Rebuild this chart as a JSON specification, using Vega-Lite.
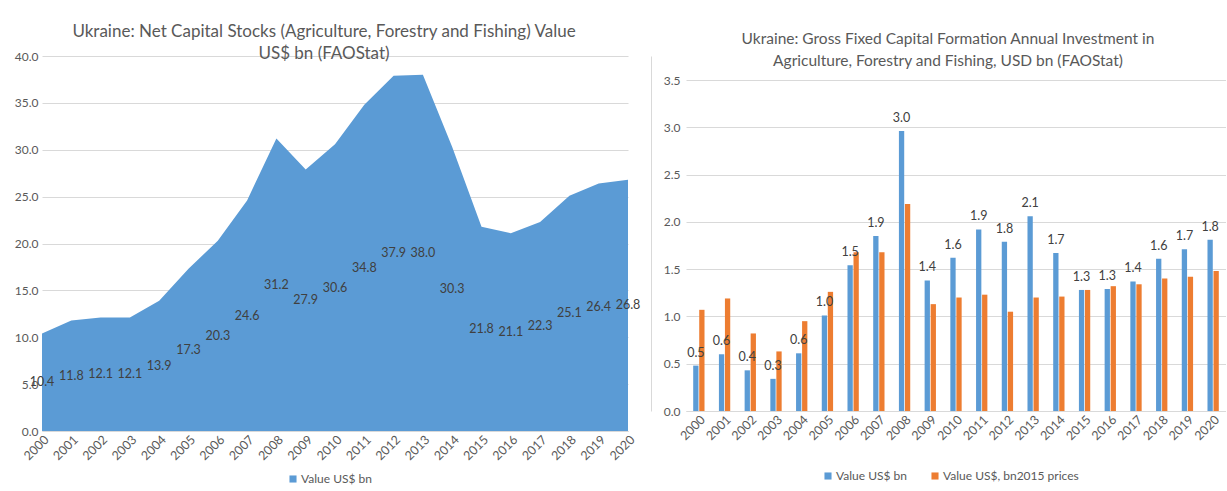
{
  "$schema": "https://vega.github.io/schema/vega-lite/v6.json",
  "background": "white",
  "padding": {"left": 14, "top": 23, "right": 0, "bottom": 0},
  "spacing": 10,
  "resolve": {"scale": {"color": "independent"}, "legend": {"color": "independent"}},
  "config": {
    "font": "Lato",
    "view": {"stroke": null},
    "title": {"color": "#595959", "fontSize": 17, "fontWeight": "normal", "lineHeight": 22},
    "axis": {"labelColor": "#595959", "labelFontSize": 12, "gridColor": "#d9d9d9", "domainColor": "#d9d9d9", "ticks": false, "title": null, "labelFont": "Lato", "labelOverlap": false},
    "legend": {"labelColor": "#595959", "labelFontSize": 12, "labelOffset": 2, "symbolType": "square", "symbolSize": 50, "title": null, "symbolStrokeWidth": 0}
  },
  "datasets": {
    "stocks": [
      {"year": "2000", "value": 10.4, "series": "Value US$ bn"},
      {"year": "2001", "value": 11.8, "series": "Value US$ bn"},
      {"year": "2002", "value": 12.1, "series": "Value US$ bn"},
      {"year": "2003", "value": 12.1, "series": "Value US$ bn"},
      {"year": "2004", "value": 13.9, "series": "Value US$ bn"},
      {"year": "2005", "value": 17.3, "series": "Value US$ bn"},
      {"year": "2006", "value": 20.3, "series": "Value US$ bn"},
      {"year": "2007", "value": 24.6, "series": "Value US$ bn"},
      {"year": "2008", "value": 31.2, "series": "Value US$ bn"},
      {"year": "2009", "value": 27.9, "series": "Value US$ bn"},
      {"year": "2010", "value": 30.6, "series": "Value US$ bn"},
      {"year": "2011", "value": 34.8, "series": "Value US$ bn"},
      {"year": "2012", "value": 37.9, "series": "Value US$ bn"},
      {"year": "2013", "value": 38.0, "series": "Value US$ bn"},
      {"year": "2014", "value": 30.3, "series": "Value US$ bn"},
      {"year": "2015", "value": 21.8, "series": "Value US$ bn"},
      {"year": "2016", "value": 21.1, "series": "Value US$ bn"},
      {"year": "2017", "value": 22.3, "series": "Value US$ bn"},
      {"year": "2018", "value": 25.1, "series": "Value US$ bn"},
      {"year": "2019", "value": 26.4, "series": "Value US$ bn"},
      {"year": "2020", "value": 26.8, "series": "Value US$ bn"}
    ],
    "gfcf": [
      {"year": "2000", "series": "Value US$ bn", "value": 0.48},
      {"year": "2001", "series": "Value US$ bn", "value": 0.60},
      {"year": "2002", "series": "Value US$ bn", "value": 0.43},
      {"year": "2003", "series": "Value US$ bn", "value": 0.34},
      {"year": "2004", "series": "Value US$ bn", "value": 0.61},
      {"year": "2005", "series": "Value US$ bn", "value": 1.01},
      {"year": "2006", "series": "Value US$ bn", "value": 1.54},
      {"year": "2007", "series": "Value US$ bn", "value": 1.85},
      {"year": "2008", "series": "Value US$ bn", "value": 2.96},
      {"year": "2009", "series": "Value US$ bn", "value": 1.38},
      {"year": "2010", "series": "Value US$ bn", "value": 1.62},
      {"year": "2011", "series": "Value US$ bn", "value": 1.92},
      {"year": "2012", "series": "Value US$ bn", "value": 1.79},
      {"year": "2013", "series": "Value US$ bn", "value": 2.06},
      {"year": "2014", "series": "Value US$ bn", "value": 1.67},
      {"year": "2015", "series": "Value US$ bn", "value": 1.28},
      {"year": "2016", "series": "Value US$ bn", "value": 1.29},
      {"year": "2017", "series": "Value US$ bn", "value": 1.37},
      {"year": "2018", "series": "Value US$ bn", "value": 1.61},
      {"year": "2019", "series": "Value US$ bn", "value": 1.71},
      {"year": "2020", "series": "Value US$ bn", "value": 1.81},
      {"year": "2000", "series": "Value US$, bn2015 prices", "value": 1.07},
      {"year": "2001", "series": "Value US$, bn2015 prices", "value": 1.19},
      {"year": "2002", "series": "Value US$, bn2015 prices", "value": 0.82},
      {"year": "2003", "series": "Value US$, bn2015 prices", "value": 0.63},
      {"year": "2004", "series": "Value US$, bn2015 prices", "value": 0.95},
      {"year": "2005", "series": "Value US$, bn2015 prices", "value": 1.26},
      {"year": "2006", "series": "Value US$, bn2015 prices", "value": 1.68},
      {"year": "2007", "series": "Value US$, bn2015 prices", "value": 1.68},
      {"year": "2008", "series": "Value US$, bn2015 prices", "value": 2.19},
      {"year": "2009", "series": "Value US$, bn2015 prices", "value": 1.13},
      {"year": "2010", "series": "Value US$, bn2015 prices", "value": 1.20},
      {"year": "2011", "series": "Value US$, bn2015 prices", "value": 1.23},
      {"year": "2012", "series": "Value US$, bn2015 prices", "value": 1.05},
      {"year": "2013", "series": "Value US$, bn2015 prices", "value": 1.20},
      {"year": "2014", "series": "Value US$, bn2015 prices", "value": 1.21},
      {"year": "2015", "series": "Value US$, bn2015 prices", "value": 1.28},
      {"year": "2016", "series": "Value US$, bn2015 prices", "value": 1.32},
      {"year": "2017", "series": "Value US$, bn2015 prices", "value": 1.34},
      {"year": "2018", "series": "Value US$, bn2015 prices", "value": 1.40},
      {"year": "2019", "series": "Value US$, bn2015 prices", "value": 1.42},
      {"year": "2020", "series": "Value US$, bn2015 prices", "value": 1.48}
    ]
  },
  "hconcat": [
    {
      "width": 586,
      "height": 375,
      "title": {"text": ["Ukraine: Net Capital Stocks (Agriculture, Forestry and Fishing) Value", "US$ bn (FAOStat)"], "offset": -13, "dx": -11},
      "data": {"name": "stocks"},
      "layer": [
        {
          "mark": {"type": "area", "color": "#5b9bd5"},
          "encoding": {
            "x": {"field": "year", "type": "ordinal", "scale": {"type": "point", "padding": 0}, "axis": {"labelAngle": -45, "domain": true, "grid": false, "labelFontSize": 12.5}},
            "y": {"field": "value", "type": "quantitative", "scale": {"domain": [0, 40]}, "axis": {"format": ".1f", "values": [0, 5, 10, 15, 20, 25, 30, 35, 40], "domain": false, "labelPadding": 4}},
            "color": {"field": "series", "type": "nominal", "scale": {"domain": ["Value US$ bn"], "range": ["#5b9bd5"]}, "legend": {"orient": "none", "legendX": 245, "legendY": 417}}
          }
        },
        {
          "mark": {"type": "text", "color": "#404040", "fontSize": 12.5},
          "encoding": {
            "x": {"field": "year", "type": "ordinal"},
            "y": {"field": "value", "type": "quantitative", "scale": {"domain": [0, 80]}, "axis": null},
            "text": {"field": "value", "type": "quantitative", "format": ".1f"}
          }
        }
      ],
      "resolve": {"scale": {"y": "independent"}}
    },
    {
      "width": 540,
      "height": 355,
      "title": {"text": ["Ukraine: Gross Fixed Capital Formation Annual Investment in", "Agriculture, Forestry and Fishing, USD bn (FAOStat)"], "offset": -13, "fontSize": 15.5, "dx": -8},
      "data": {"name": "gfcf"},
      "layer": [
        {
          "mark": {"type": "bar"},
          "encoding": {
            "x": {"field": "year", "type": "nominal", "scale": {"paddingInner": 0.56, "paddingOuter": 0.28}, "axis": {"labelAngle": -45, "domain": true, "grid": false, "labelFontSize": 12.5}},
            "xOffset": {"field": "series", "type": "nominal", "scale": {"domain": ["Value US$ bn", "Value US$, bn2015 prices"], "paddingInner": 0.12}},
            "y": {"field": "value", "type": "quantitative", "scale": {"domain": [0, 3.754], "nice": false}, "axis": {"format": ".1f", "values": [0, 0.5, 1, 1.5, 2, 2.5, 3, 3.5], "domain": false, "labelPadding": 6}},
            "color": {"field": "series", "type": "nominal", "scale": {"domain": ["Value US$ bn", "Value US$, bn2015 prices"], "range": ["#5b9bd5", "#ed7d31"]}, "legend": {"orient": "none", "legendX": 136, "legendY": 414, "direction": "horizontal", "columnPadding": 22}}
          }
        },
        {
          "transform": [{"filter": "datum.series == 'Value US$ bn'"}],
          "mark": {"type": "text", "color": "#404040", "fontSize": 12.5, "baseline": "bottom", "dy": -6},
          "encoding": {
            "x": {"field": "year", "type": "nominal"},
            "xOffset": {"field": "series", "type": "nominal"},
            "y": {"field": "value", "type": "quantitative", "axis": {"orient": "left", "offset": 35, "labels": false, "grid": false, "domain": true, "domainColor": "#d9d9d9", "ticks": false}},
            "text": {"field": "value", "type": "quantitative", "format": ".1f"}
          }
        }
      ],
      "resolve": {"axis": {"y": "independent"}}
    }
  ]
}
